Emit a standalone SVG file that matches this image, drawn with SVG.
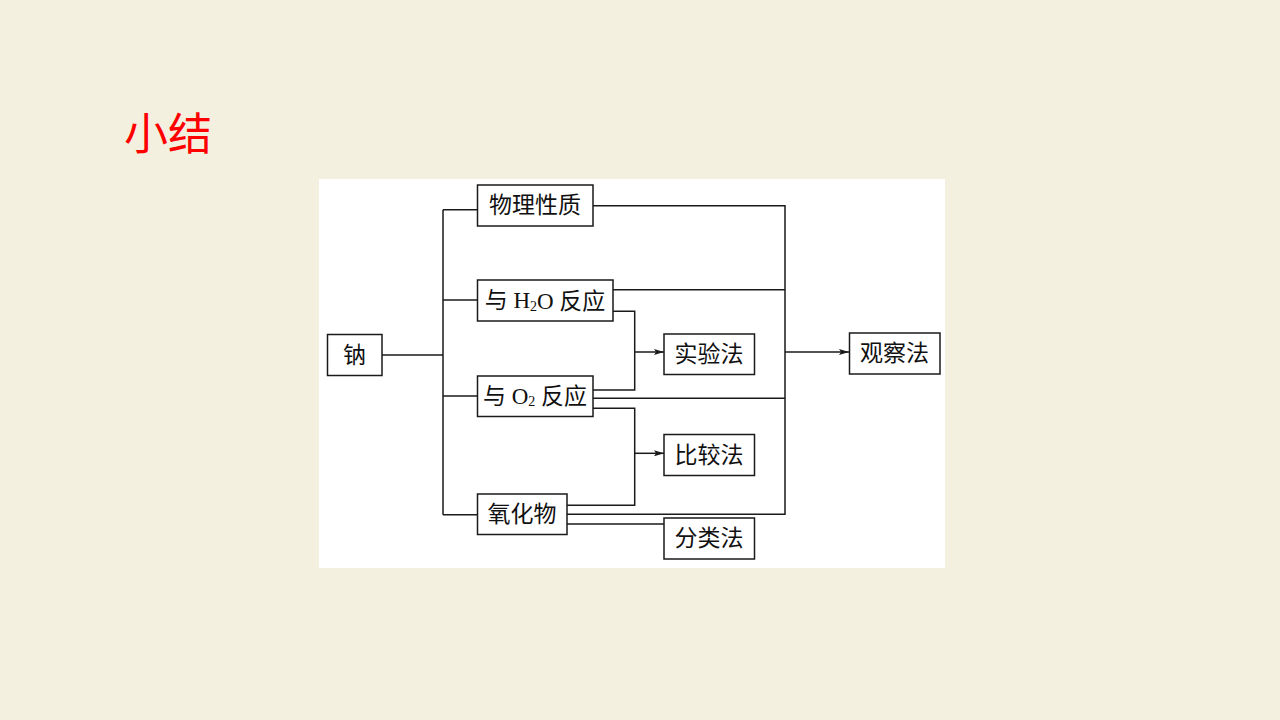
<svg xmlns="http://www.w3.org/2000/svg" width="1280" height="720" viewBox="0 0 1280 720">
<defs>
<style>
.bx{fill:#fff;stroke:#1a1a1a;stroke-width:1.5}
.ln{fill:none;stroke:#1a1a1a;stroke-width:1.5}
.t{font-family:"Liberation Serif","Noto Sans CJK SC",serif;font-size:23px;fill:#111;text-anchor:middle;dominant-baseline:central}
</style>
<marker id="ah" viewBox="0 0 10 6" refX="10" refY="3" markerWidth="10" markerHeight="6" markerUnits="userSpaceOnUse" orient="auto">
<path d="M0,0 L10,3 L0,6 L2,3 Z" fill="#1a1a1a"/>
</marker>
</defs>
<rect width="1280" height="720" fill="#f4f0e0"/>
<text x="124" y="150" font-family="'Noto Sans CJK SC',sans-serif" font-size="44" fill="#ff0000">小结</text>
<rect x="319" y="179" width="626" height="389" fill="#fff"/>
<g id="connectors">
<path class="ln" d="M382,355 H443 M443,209.7 V514.7 M443,209.7 H477 M443,300 H477 M443,396 H477 M443,514.7 H477"/>
<path class="ln" d="M593,205.7 H785 V514.3 H567 M613,289.7 H785 M593,398.3 H785"/>
<path class="ln" d="M613,311.3 H634.7 V390 H593"/>
<path class="ln" d="M593,408.3 H634.7 V505.3 H567"/>
<path class="ln" d="M567,524 H664"/>
<path class="ln" d="M634.7,352 H664" marker-end="url(#ah)"/>
<path class="ln" d="M634.7,453.3 H664" marker-end="url(#ah)"/>
<path class="ln" d="M785,352 H849" marker-end="url(#ah)"/>
</g>
<g id="na"><rect class="bx" x="327.5" y="334.5" width="54.5" height="41"/><text class="t" x="354.5" y="355">钠</text></g>
<g id="wuli"><rect class="bx" x="477.5" y="185" width="115.5" height="41"/><text class="t" x="535" y="205.5">物理性质</text></g>
<g id="h2o"><rect class="bx" x="477.5" y="280" width="135.5" height="41"/><text class="t" x="545" y="300.5">与 H<tspan font-size="14" dy="5">2</tspan><tspan dy="-5">O 反应</tspan></text></g>
<g id="o2"><rect class="bx" x="477.5" y="376" width="115.5" height="40.5"/><text class="t" x="535" y="396">与 O<tspan font-size="14" dy="5">2</tspan><tspan dy="-5"> 反应</tspan></text></g>
<g id="yhw"><rect class="bx" x="477.5" y="494" width="89.5" height="40.5"/><text class="t" x="522" y="514">氧化物</text></g>
<g id="syf"><rect class="bx" x="664" y="334" width="90.5" height="40.5"/><text class="t" x="709" y="354">实验法</text></g>
<g id="bjf"><rect class="bx" x="664" y="434.5" width="90.5" height="41"/><text class="t" x="709" y="455">比较法</text></g>
<g id="flf"><rect class="bx" x="664" y="518" width="90.5" height="41"/><text class="t" x="709" y="538.5">分类法</text></g>
<g id="gcf"><rect class="bx" x="849.5" y="333" width="90.5" height="41"/><text class="t" x="894.5" y="353.5">观察法</text></g>
</svg>
